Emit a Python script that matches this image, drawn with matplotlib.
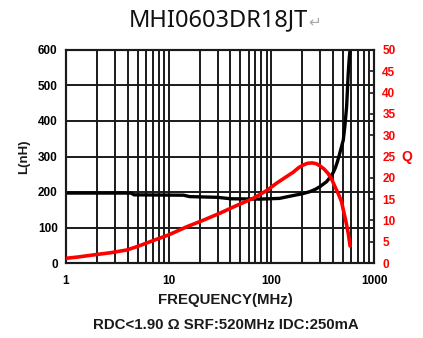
import matplotlib
matplotlib.use("Agg")
import matplotlib.pyplot as plt
from matplotlib.ticker import FixedLocator, LogLocator, NullFormatter

# Data
freq_L = [1, 4.3, 4.6, 14, 16, 30, 40, 77, 120, 163, 200, 238, 270, 297, 320, 345, 370, 401,
          420, 440, 460, 483, 502, 520, 541, 561, 575, 585]
L_nH = [197, 197, 192, 191, 187, 185, 181, 180, 182, 190, 195, 201, 208, 215, 222, 229, 240, 255,
        268, 285, 305, 328, 346, 385, 440, 534, 580, 600]

freq_Q = [1, 1.3, 1.85, 2.7, 3.9, 5, 6.6, 10, 15, 22, 31.6, 45, 66.7, 90, 112, 135, 163, 185,
          204, 225, 250, 275, 297, 325, 358, 390, 417, 450, 483, 502, 530, 561, 585]
Q_vals = [1.1, 1.4, 1.9, 2.4, 3.05, 3.9, 5.0, 6.6, 8.5, 10.1, 11.7, 13.4, 15.2, 17.0, 18.7, 20.0,
          21.3, 22.4, 23.0, 23.4, 23.5, 23.3, 22.8, 22.1, 21.0, 19.5, 17.9, 16.2, 14.4, 12.5,
          10.0, 7.0, 4.0]

x_ticks = [1, 10, 100, 1000]
x_ticklabels = ["1", "10", "100", "1000"]
L_ticks = [0, 100, 200, 300, 400, 500, 600]
Q_ticks = [0, 5, 10, 15, 20, 25, 30, 35, 40, 45, 50]

title = "MHI0603DR18JT"
xlabel = "FREQUENCY(MHz)"
footer = "RDC<1.90 \u03a9 SRF:520MHz IDC:250mA"

FONT = ["Liberation Sans", "DejaVu Sans"]
plt.rcParams['font.family'] = FONT

fig = plt.figure(figsize=(4.23, 3.38), dpi=100)
ax = fig.add_axes([66/423, 1-263/338, (374-66)/423, (263-50)/338])
ax2 = ax.twinx()

ax.set_xscale('log')
ax.set_xlim(1, 1000)
ax.set_ylim(0, 600)
ax2.set_ylim(0, 50)

grid_kw = dict(color='#1a1a1a', lw=1.4)
ax.xaxis.set_major_locator(FixedLocator(x_ticks))
ax.xaxis.set_minor_locator(LogLocator(base=10, subs=range(2, 10)))
ax.xaxis.set_minor_formatter(NullFormatter())
ax.set_xticks(x_ticks)
ax.set_xticklabels(x_ticklabels)
ax.grid(which='both', axis='x', **grid_kw)
ax.set_yticks(L_ticks)
ax.grid(which='major', axis='y', **grid_kw)
ax.set_axisbelow(True)

ax.plot(freq_L, L_nH, color='black', lw=2.4, solid_capstyle='round',
        solid_joinstyle='round', zorder=3)
ax2.plot(freq_Q, Q_vals, color='#ff0000', lw=2.6, solid_capstyle='round',
         solid_joinstyle='round', zorder=4)

ax2.set_yticks(Q_ticks)

for a in (ax, ax2):
    for sp in a.spines.values():
        sp.set_linewidth(1.5)
        sp.set_color('#1a1a1a')

ax.tick_params(axis='x', which='both', length=0, pad=9, labelsize=8.5)
ax.tick_params(axis='y', which='both', length=0, pad=6, labelsize=8.5)
ax2.tick_params(axis='y', direction='in', length=3, width=1.2, color='#1a1a1a',
                pad=6, labelsize=8.5, labelcolor='#ff0000')
for lab in ax.get_xticklabels() + ax.get_yticklabels() + ax2.get_yticklabels():
    lab.set_fontweight('bold')

fig.text(24/423, 1-157/338, "L(nH)", rotation=90, ha='center', va='center',
         fontsize=9.5, fontweight='bold', color='#1a1a1a')
fig.text(407/423, 1-157/338, "Q", ha='center', va='center',
         fontsize=10, fontweight='bold', color='#ff0000')
fig.text(225/423, 1-300/338, xlabel, ha='center', va='center',
         fontsize=10.8, fontweight='bold', color='#1a1a1a')
fig.text(226/423, 1-325/338, footer, ha='center', va='center',
         fontsize=10.8, fontweight='bold', color='#1a1a1a')

t = fig.text(218/423, 1-20/338, title, ha='center', va='center',
             fontsize=17, color='#111111', family=["Noto Sans", "DejaVu Sans"])
fig.canvas.draw()
bb = t.get_window_extent()
fig.text((bb.x1 + 1)/423, 1-22/338, "\u21b5", ha='left', va='center',
         fontsize=11, color='#aaaaaa', family=["DejaVu Sans"])

fig.savefig("out.png", dpi=100)
